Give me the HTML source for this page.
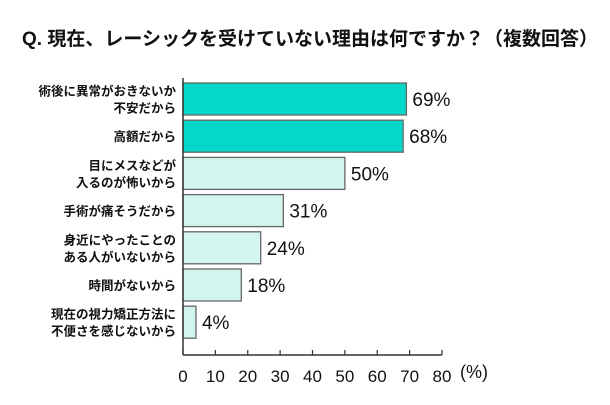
<!DOCTYPE html>
<html><head><meta charset="utf-8"><style>
body{margin:0;background:#fff;}
svg text{font-family:"Liberation Sans","Noto Sans CJK JP",sans-serif;fill:#111;}
</style></head><body>
<svg width="610" height="400">
<text x="22" y="45" font-size="19" font-weight="bold">Q. 現在、レーシックを受けていない理由は何ですか？（複数回答）</text>
<g id="plot"></g>
</svg>
<script>
const categories=[["術後に異常がおきないか","不安だから"],["高額だから"],["目にメスなどが","入るのが怖いから"],["手術が痛そうだから"],["身近にやったことの","ある人がいないから"],["時間がないから"],["現在の視力矯正方法に","不便さを感じないから"]];
const values=[69,68,50,31,24,18,4];
const highlight=[true,true,false,false,false,false,false];
const ticks=[0,10,20,30,40,50,60,70,80];
const x0=183,x1=442,xmax=80;
const xs=v=>x0+(x1-x0)*v/xmax;
const bh=32;
const ys=i=>83+i*37.2;
const ns="http://www.w3.org/2000/svg";
const g=document.getElementById('plot');
function mk(t,a){const e=document.createElementNS(ns,t);for(const k in a)e.setAttribute(k,a[k]);g.appendChild(e);return e;}
values.forEach((v,i)=>{
 const y=ys(i);
 const r=mk('rect',{x:x0,y:y,width:xs(v)-x0,height:bh,fill:highlight[i]?'#05d8c9':'#d3f5f0',stroke:'#666','stroke-width':1.3});
 
 
 const t=mk('text',{x:xs(v)+6,y:y+bh/2+7,'font-size':19});
 t.textContent=v+'%';
 
 
 const lines=categories[i];
 lines.forEach((s,j)=>{
  const l=mk('text',{x:176,y:y+bh/2+5+(j-(lines.length-1)/2)*17,'font-size':12.5,'font-weight':'bold','text-anchor':'end'});
  l.textContent=s;
  
  
 });
});
const ya=mk('line',{x1:x0,y1:78,x2:x0,y2:355,stroke:'#333','stroke-width':1.5});


const xa=mk('line',{x1:x0,y1:355,x2:x1,y2:355,stroke:'#333','stroke-width':1.5});


ticks.forEach(tv=>{
 const tk=mk('line',{x1:xs(tv),y1:350,x2:xs(tv),y2:355,stroke:'#333','stroke-width':1.2});
 
 
 const tl=mk('text',{x:xs(tv),y:382,'font-size':17,'text-anchor':'middle'});
 tl.textContent=tv;
 
 
});
const u=mk('text',{x:460,y:378,'font-size':18});
u.textContent='(%)';


</script>
</body></html>
